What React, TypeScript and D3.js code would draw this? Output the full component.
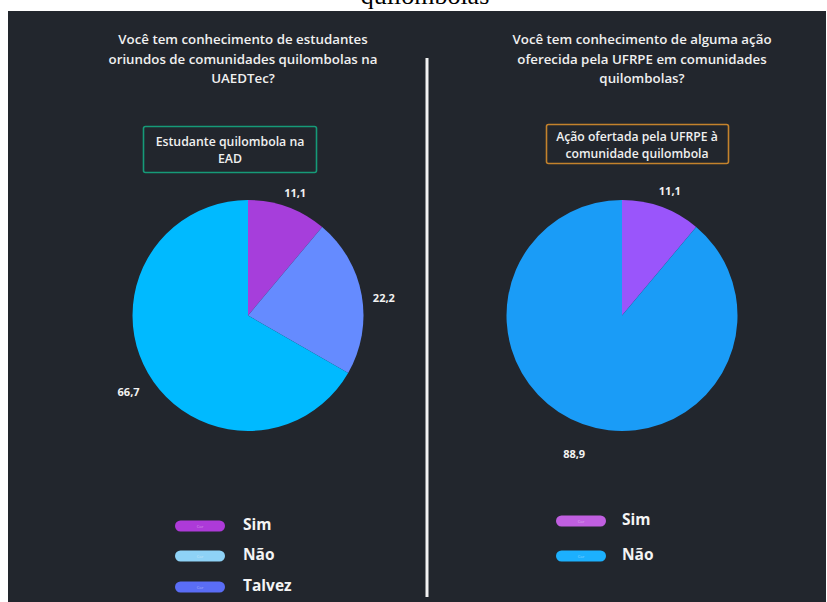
import React from "react";
import * as d3 from "d3";

const leftCategories = ["Sim", "Talvez", "Não"];
const leftValues = [11.1, 22.2, 66.7];
const leftPieColors = ["#a63edb", "#658bff", "#00baff"];
const leftLegendCategories = ["Sim", "Não", "Talvez"];
const leftLegendColors = ["#ad3ad8", "#8ed2f6", "#5a6df6"];

const rightCategories = ["Sim", "Não"];
const rightValues = [11.1, 88.9];
const rightPieColors = ["#9a55fb", "#1a9cf7"];
const rightLegendCategories = ["Sim", "Não"];
const rightLegendColors = ["#c05fe0", "#1cb0fd"];

const leftTitle = [
  "Você tem conhecimento de estudantes",
  "oriundos de comunidades quilombolas na",
  "UAEDTec?",
];
const rightTitle = [
  "Você tem conhecimento de alguma ação",
  "oferecida pela UFRPE em comunidades",
  "quilombolas?",
];
const leftBoxText = ["Estudante quilombola na", "EAD"];
const rightBoxText = ["Ação ofertada pela UFRPE à", "comunidade quilombola"];

const FONT = "'Open Sans', 'DejaVu Sans', sans-serif";

function fmt(v: number) {
  return d3.format(".1f")(v).replace(".", ",");
}

function Pie(props: {
  cx: number;
  cy: number;
  r: number;
  values: number[];
  colors: string[];
  labelR: number;
}) {
  const { cx, cy, r, values, colors, labelR } = props;
  const arcs = d3.pie<number>().sort(null)(values);
  const arc = d3.arc<d3.PieArcDatum<number>>().innerRadius(0).outerRadius(r);
  const lab = d3.arc<d3.PieArcDatum<number>>().innerRadius(labelR).outerRadius(labelR);
  return (
    <g transform={`translate(${cx},${cy})`}>
      {arcs.map((a, i) => (
        <path key={i} d={arc(a) || ""} fill={colors[i]} />
      ))}
      {arcs.map((a, i) => {
        const [x, y] = lab.centroid(a);
        return (
          <text
            key={"l" + i}
            x={x}
            y={y + 6.5}
            textAnchor="middle"
            dominantBaseline="central"
            fill="#f2f2f2"
            fontSize={11}
            fontWeight={700}
            fontFamily={FONT}
          >
            {fmt(values[i])}
          </text>
        );
      })}
    </g>
  );
}

function Legend(props: {
  x: number;
  ys: number[];
  labels: string[];
  colors: string[];
  labelDx: number;
}) {
  const { x, ys, labels, colors, labelDx } = props;
  return (
    <g>
      {labels.map((l, i) => (
        <g key={i}>
          <rect x={x} y={ys[i] - 5.5} width={50} height={11} rx={5.5} fill={colors[i]} />
          <text
            x={x + 25}
            y={ys[i]}
            textAnchor="middle"
            dominantBaseline="central"
            fontSize={4}
            fill="#ffffff"
            opacity={0.45}
            fontFamily={FONT}
          >
            Cor
          </text>
          <text
            x={x + labelDx}
            y={ys[i] - 2.5}
            dominantBaseline="central"
            fill="#f4f4f4"
            fontSize={15.5}
            fontWeight={700}
            fontFamily={FONT}
          >
            {l}
          </text>
        </g>
      ))}
    </g>
  );
}

function Lines(props: { x: number; ys: number[]; lines: string[]; size: number }) {
  return (
    <g>
      {props.lines.map((t, i) => (
        <text
          key={i}
          x={props.x}
          y={props.ys[i]}
          textAnchor="middle"
          dominantBaseline="central"
          fill="#f0f0f0"
          fontSize={props.size}
          fontWeight={600}
          fontFamily={FONT}
        >
          {t}
        </text>
      ))}
    </g>
  );
}

export default function App() {
  return (
    <svg
      width={827}
      height={602}
      style={{ position: "absolute", left: 0, top: 0, background: "#ffffff" }}
    >
      <text
        x={425}
        y={4}
        textAnchor="middle"
        fontSize={26}
        fontFamily="'Liberation Serif', 'DejaVu Serif', serif"
        fill="#000"
      >
        quilombolas
      </text>
      <rect x={8} y={11} width={818} height={591} fill="#22262d" />
      <rect x={425.5} y={58} width={3} height={539} fill="#f2f2f2" />

      <Lines x={243} ys={[39, 58.5, 78]} lines={leftTitle} size={13.3} />
      <Lines x={642} ys={[39, 58.5, 78]} lines={rightTitle} size={13.3} />

      <rect x={143.5} y={126.5} width={173} height={46} rx={2} fill="none" stroke="#169a78" strokeWidth={1.6} />
      <Lines x={230} ys={[141, 158]} lines={leftBoxText} size={12.3} />
      <rect x={546.5} y={124.5} width={182} height={39} rx={2} fill="none" stroke="#c4822c" strokeWidth={1.6} />
      <Lines x={637} ys={[136.5, 153]} lines={rightBoxText} size={12.2} />

      <Pie cx={248} cy={315.5} r={115.5} values={leftValues} colors={leftPieColors} labelR={138} />
      <Pie cx={622} cy={315.5} r={115.5} values={rightValues} colors={rightPieColors} labelR={140} />

      <Legend x={175} ys={[526, 556, 587]} labels={leftLegendCategories} colors={leftLegendColors} labelDx={68} />
      <Legend x={556} ys={[521, 556]} labels={rightLegendCategories} colors={rightLegendColors} labelDx={66} />
    </svg>
  );
}
